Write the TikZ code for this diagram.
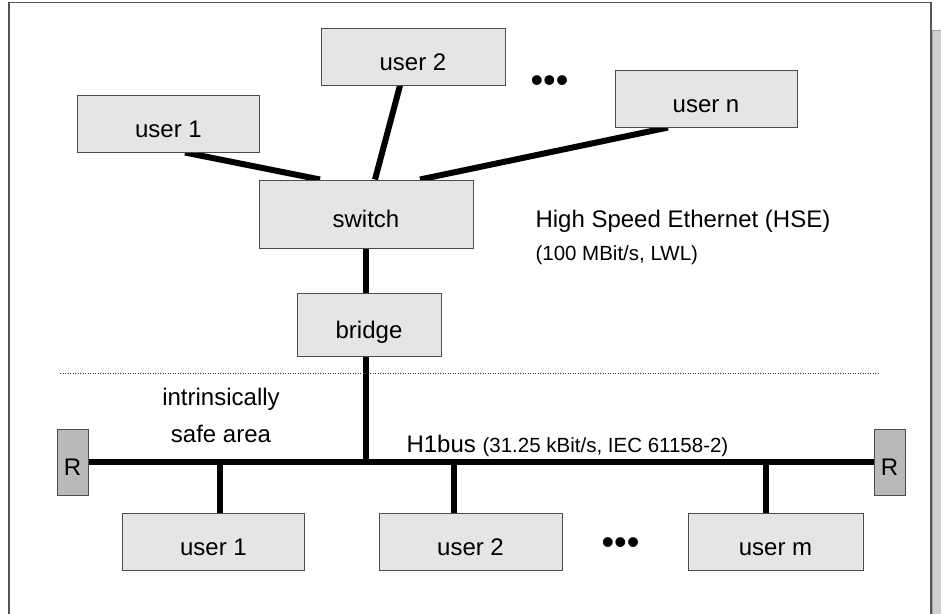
\documentclass[tikz,border=0pt]{standalone}
\usepackage{fontspec}
\setmainfont{Liberation Sans}
\usetikzlibrary{backgrounds}
\newcommand\labelfont{\fontsize{24}{37}\selectfont}
\newcommand\notefont{\fontsize{20.5}{25}\selectfont}
\newcommand\dotfont{\fontsize{36}{40}\selectfont}

\begin{document}
\begin{tikzpicture}[x=1pt,y=-1pt,
  userbox/.style={draw=black!70, fill=gray!20, line width=1pt, inner sep=0pt,
    minimum width=182pt, minimum height=57pt, font=\labelfont,
    text height=27pt, text depth=0pt},
  rbox/.style={userbox, fill=gray!55, minimum width=31pt, minimum height=66pt},
  wire/.style={line width=6pt},
  ]
  \useasboundingbox (0,0) rectangle (941,613);
  \clip (0,0) rectangle (941,613);
  \draw[black!67, line width=1.5pt] (9,2.5) rectangle (931,640);
  \filldraw[fill=gray!38, draw=gray!70, line width=0.6pt] (932,30) rectangle (945,640);

  % HSE part
  \node[userbox] (hu1) at (168.5,123.5) {user 1};
  \node[userbox, minimum width=184pt] (hu2) at (413,56.5) {user 2};
  \node[userbox] (hun) at (706,98.5) {user n};
  \node[font=\dotfont, anchor=base] (hdots) at (549.5,92) {•••};
  \node[userbox, minimum width=214pt, minimum height=68pt] (sw) at (366,214) {switch};
  \node[userbox, minimum width=144pt, minimum height=63pt] (br) at (369,324.5) {bridge};
  \node[font=\labelfont, anchor=base west] (hse) at (532,227) {High Speed Ethernet (HSE)};
  \node[font=\notefont, anchor=base west] (hserate) at (532,260) {(100 MBit/s, LWL)};

  \draw[dash pattern=on 1pt off 1.5pt, line width=0.8pt, black!80] (60,373) -- (880,373);

  % H1 part
  \node[rbox] (rl) at (72.5,462) {R};
  \node[rbox] (rr) at (889.5,462) {R};
  \node[font=\labelfont, align=center, anchor=base] (safe) at (221,442) {intrinsically\\safe area};
  \node[font=\labelfont, anchor=base west] (h1) at (403,452) {H1bus {\notefont(31.25 kBit/s, IEC 61158-2)}};
  \node[userbox] (lu1) at (213.5,541.5) {user 1};
  \node[userbox, minimum width=183pt] (lu2) at (470.5,541.5) {user 2};
  \node[font=\dotfont, anchor=base] (ldots) at (620.5,554) {•••};
  \node[userbox, minimum width=175pt] (lum) at (775.5,541.5) {user m};

  \begin{scope}[on background layer]
    \draw[wire] ([xshift=16.5pt]hu1.south) -- ([xshift=-46pt]sw.north);
    \draw[wire] ([xshift=-13pt]hu2.south) -- ([xshift=9pt]sw.north);
    \draw[wire] ([xshift=-38pt]hun.south) -- ([xshift=54pt]sw.north);
    \draw[wire] (sw.south) -- (sw.south |- br.north);
    \draw[wire] (sw.south |- br.south) -- (sw.south |- rl.east);
    \draw[wire] (rl.east) -- (rr.west);
    \draw[wire] ([xshift=6.5pt]lu1.north) -- ([xshift=6.5pt]lu1.north |- rl.east);
    \draw[wire] ([xshift=-16.5pt]lu2.north) -- ([xshift=-16.5pt]lu2.north |- rl.east);
    \draw[wire] ([xshift=-9.5pt]lum.north) -- ([xshift=-9.5pt]lum.north |- rl.east);
  \end{scope}
\end{tikzpicture}
\end{document}
